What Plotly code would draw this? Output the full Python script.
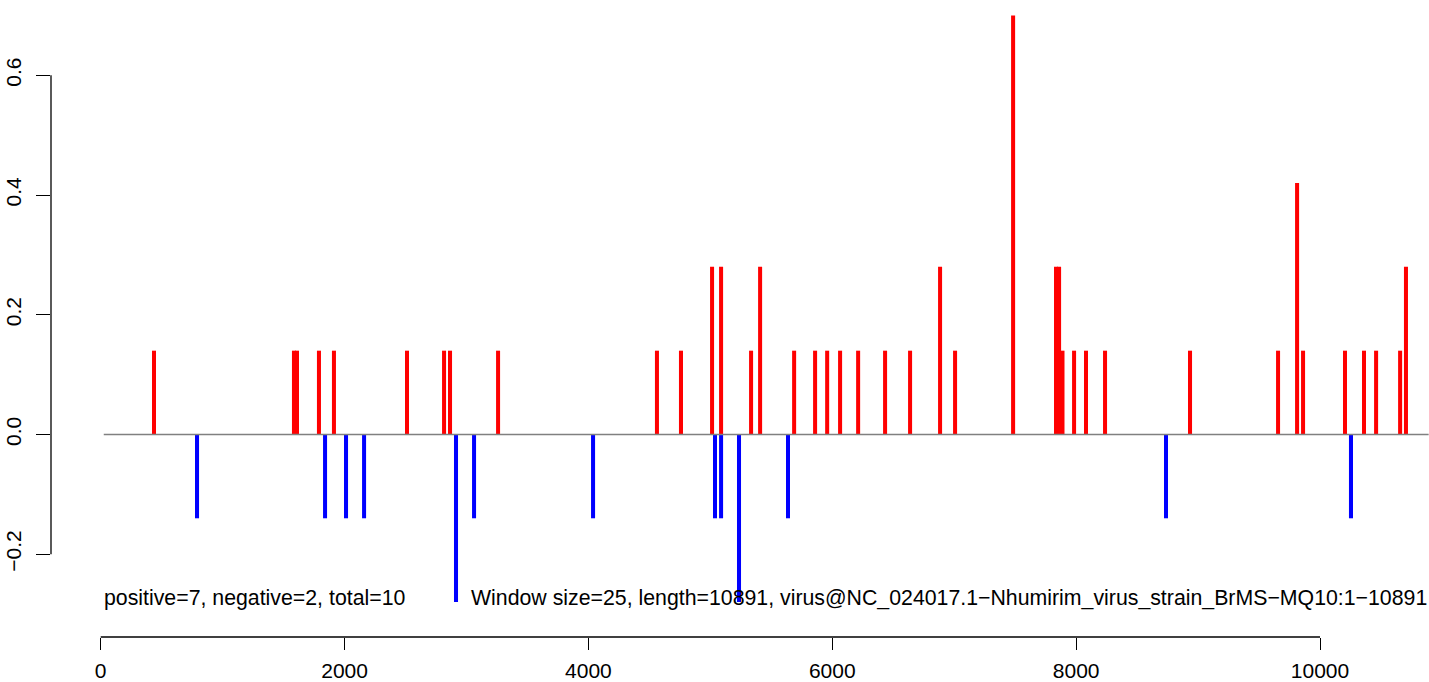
import plotly.graph_objects as go

# ---- data ----
WINDOW = 25
LENGTH = 10891
pos_x = [437, 1585, 1610, 1790, 1913, 2512, 2816, 2865, 3259, 4562, 4759,
         5014, 5088, 5334, 5408, 5687, 5859, 5958, 6064, 6212, 6433, 6638,
         6884, 7007, 7483, 7835, 7860, 7888, 7983, 8081, 8237, 8934, 9656,
         9812, 9861, 10205, 10361, 10460, 10657, 10705]
pos_y = [0.14, 0.14, 0.14, 0.14, 0.14, 0.14, 0.14, 0.14, 0.14, 0.14, 0.14,
         0.28, 0.28, 0.14, 0.28, 0.14, 0.14, 0.14, 0.14, 0.14, 0.14, 0.14,
         0.28, 0.14, 0.70, 0.28, 0.28, 0.14, 0.14, 0.14, 0.14, 0.14, 0.14,
         0.42, 0.14, 0.14, 0.14, 0.14, 0.14, 0.28]
neg_x = [790, 1840, 2012, 2160, 2914, 3062, 4038, 5038, 5088, 5235, 5637,
         8737, 10254]
neg_y = [-0.14, -0.14, -0.14, -0.14, -0.28, -0.14, -0.14, -0.14, -0.14,
         -0.28, -0.14, -0.14, -0.14]
x_ticks = [0, 2000, 4000, 6000, 8000, 10000]
y_ticks = [-0.2, 0.0, 0.2, 0.4, 0.6]
y_tick_text = ["\u22120.2", "0.0", "0.2", "0.4", "0.6"]
summary_text = "positive=7, negative=2, total=10"
info_text = ("Window size=25, length=10891, "
             "virus@NC_024017.1\u2212Nhumirim_virus_strain_BrMS\u2212MQ10:1\u221210891")

FONT = "Liberation Sans, Arial, Helvetica, sans-serif"
FS = 21
FS_NOTE = 21.3
BAR_W = 33

fig = go.Figure()
fig.add_trace(go.Bar(x=pos_x, y=pos_y, width=BAR_W, marker=dict(color="#FF0000", line=dict(width=0)),
                     hoverinfo="x+y", showlegend=False))
fig.add_trace(go.Bar(x=neg_x, y=neg_y, width=BAR_W, marker=dict(color="#0000FF", line=dict(width=0)),
                     hoverinfo="x+y", showlegend=False))

shapes = [
    # baseline at zero
    dict(type="line", xref="x", yref="y", x0=WINDOW, x1=LENGTH, y0=0, y1=0,
         line=dict(color="#808080", width=1.5), layer="above"),
    # x axis line from first to last tick
    dict(type="line", xref="x", yref="paper", x0=x_ticks[0], x1=x_ticks[-1], y0=0, y1=0,
         line=dict(color="black", width=1.3)),
    # y axis line from first to last tick
    dict(type="line", xref="paper", yref="y", x0=0, x1=0, y0=y_ticks[0], y1=y_ticks[-1],
         line=dict(color="black", width=1.3)),
]

annotations = [
    dict(x=WINDOW, y=-0.2725, xref="x", yref="y", text=summary_text, showarrow=False,
         xanchor="left", yanchor="middle", xshift=-2, font=dict(family=FONT, size=FS_NOTE, color="black")),
    dict(x=LENGTH, y=-0.2725, xref="x", yref="y", text=info_text, showarrow=False,
         xanchor="right", yanchor="middle", font=dict(family=FONT, size=FS_NOTE, color="black")),
]

fig.update_layout(
    width=1429, height=682,
    margin=dict(l=51, r=0, t=0, b=35, pad=0),
    paper_bgcolor="white", plot_bgcolor="white",
    barmode="overlay",
    shapes=shapes, annotations=annotations,
    font=dict(family=FONT, size=FS, color="black"),
    xaxis=dict(range=[-407.6, 10893.9], showgrid=False, zeroline=False, showline=False,
               tickmode="array", tickvals=x_ticks, ticktext=[str(v) for v in x_ticks],
               ticks="outside", ticklen=12, tickwidth=1.3, tickcolor="black",
               ticklabelstandoff=3,
               tickfont=dict(family=FONT, size=FS, color="black")),
    yaxis=dict(range=[-0.3383, 0.7258], showgrid=False, zeroline=False, showline=False,
               tickmode="array", tickvals=y_ticks, ticktext=y_tick_text,
               ticks="outside", ticklen=14, tickwidth=1.3, tickcolor="black", tickangle=-90,
               ticklabelstandoff=7,
               tickfont=dict(family=FONT, size=FS, color="black")),
)

fig.write_html(
    "out.html",
    config={"displayModeBar": False},
    post_script="document.body.style.margin='0';document.body.style.padding='0';"
                "document.body.style.overflow='hidden';",
)
